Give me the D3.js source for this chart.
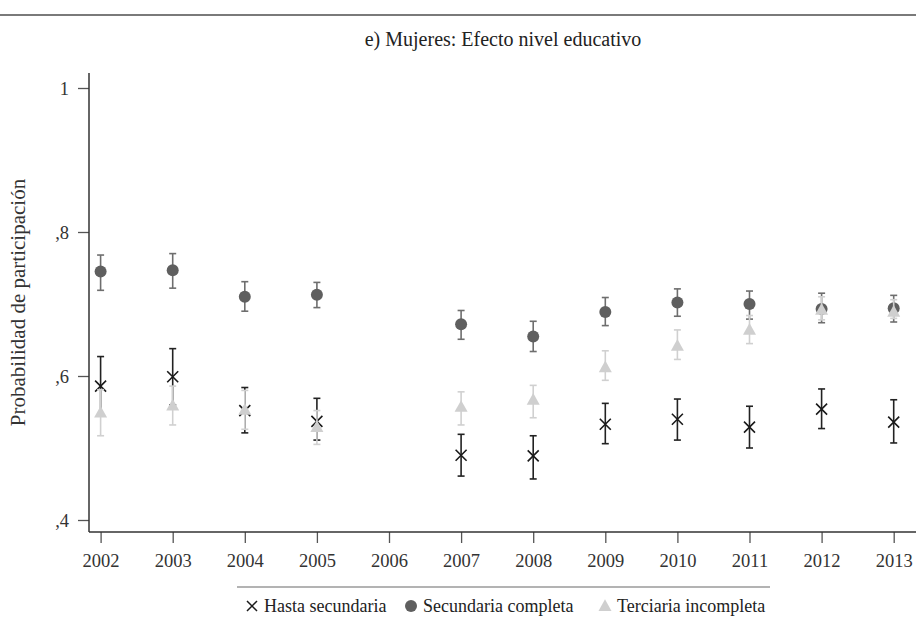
<!DOCTYPE html>
<html>
<head>
<meta charset="utf-8">
<script src="https://cdn.jsdelivr.net/npm/d3@7"></script>
<style>
  html, body { margin: 0; padding: 0; background: #fff; }
  svg { display: block; font-family: "Liberation Serif", "Times New Roman", serif; }
</style>
</head>
<body>
<svg id="chart" width="916" height="632"></svg>
<script>
// Years shown on the axis (2006 has no estimates)
const years = ["2002","2003","2004","2005","2006","2007","2008","2009","2010","2011","2012","2013"];
const yTicks = [0.4, 0.6, 0.8, 1.0];
const yTickLabels = [",4", ",6", ",8", "1"];

// Predicted probability and 95% interval by education level
const hastaYears = ["2002","2003","2004","2005","2007","2008","2009","2010","2011","2012","2013"];
const hastaVal   = [0.586, 0.599, 0.552, 0.537, 0.490, 0.489, 0.533, 0.540, 0.529, 0.554, 0.536];
const hastaLo    = [0.545, 0.560, 0.521, 0.511, 0.461, 0.457, 0.506, 0.511, 0.500, 0.527, 0.507];
const hastaHi    = [0.627, 0.638, 0.584, 0.569, 0.519, 0.517, 0.562, 0.568, 0.558, 0.582, 0.567];

const secYears = ["2002","2003","2004","2005","2007","2008","2009","2010","2011","2012","2013"];
const secVal   = [0.745, 0.747, 0.710, 0.713, 0.672, 0.655, 0.689, 0.702, 0.700, 0.693, 0.694];
const secLo    = [0.719, 0.722, 0.690, 0.695, 0.651, 0.634, 0.670, 0.683, 0.679, 0.674, 0.675];
const secHi    = [0.768, 0.770, 0.731, 0.730, 0.691, 0.676, 0.709, 0.721, 0.718, 0.715, 0.712];

const terYears = ["2002","2003","2004","2005","2007","2008","2009","2010","2011","2012","2013"];
const terVal   = [0.549, 0.559, 0.553, 0.529, 0.557, 0.567, 0.612, 0.642, 0.664, 0.692, 0.689];
const terLo    = [0.517, 0.532, 0.526, 0.505, 0.532, 0.542, 0.594, 0.623, 0.645, 0.678, 0.680];
const terHi    = [0.581, 0.586, 0.580, 0.552, 0.578, 0.587, 0.635, 0.664, 0.684, 0.710, 0.706];

const legendLabels = ["Hasta secundaria", "Secundaria completa", "Terciaria incompleta"];

const svg = d3.select("#chart");

// plot frame
const plotLeft = 89, plotRight = 916, plotTop = 73, plotBottom = 532;

const x = d3.scalePoint().domain(years).range([100.6, 893.7]);
const y = d3.scaleLinear().domain([0.4, 1.0]).range([520, 88]);

// header rule and title
svg.append("line").attr("x1", 0).attr("x2", 916).attr("y1", 15).attr("y2", 15)
  .attr("stroke", "#7a7a7a").attr("stroke-width", 2);
svg.append("text").attr("x", 503).attr("y", 46).attr("text-anchor", "middle")
  .attr("font-size", 20).attr("fill", "#222").text("e) Mujeres: Efecto nivel educativo");

// y axis
const yAxis = svg.append("g").attr("transform", `translate(${plotLeft},0)`)
  .call(d3.axisLeft(y).tickValues(yTicks).tickSize(11).tickSizeOuter(0)
    .tickFormat((d, i) => yTickLabels[i]));
yAxis.select(".domain").remove();
yAxis.selectAll(".tick line").attr("stroke", "#555").attr("stroke-width", 1.3);
yAxis.selectAll(".tick text").attr("x", -20).attr("dy", "0.35em")
  .attr("font-size", 18.5).attr("fill", "#333").attr("font-family", "Liberation Serif");
svg.append("line").attr("x1", plotLeft).attr("x2", plotLeft).attr("y1", plotTop).attr("y2", plotBottom)
  .attr("stroke", "#333").attr("stroke-width", 1.5);

// x axis
const xAxis = svg.append("g").attr("transform", `translate(0,${plotBottom})`)
  .call(d3.axisBottom(x).tickSize(11).tickSizeOuter(0));
xAxis.select(".domain").remove();
xAxis.selectAll(".tick line").attr("stroke", "#555").attr("stroke-width", 1.3);
xAxis.selectAll(".tick text").attr("y", 22).attr("dy", "0.71em")
  .attr("font-size", 18.5).attr("fill", "#333").attr("font-family", "Liberation Serif");
svg.append("line").attr("x1", plotLeft).attr("x2", plotRight).attr("y1", plotBottom).attr("y2", plotBottom)
  .attr("stroke", "#333").attr("stroke-width", 1.5);

// y title
svg.append("text")
  .attr("transform", `translate(25,${(plotTop + plotBottom) / 2}) rotate(-90)`)
  .attr("text-anchor", "middle").attr("font-size", 21).attr("fill", "#333")
  .text("Probabilidad de participación");

// interval bars with caps
function drawIntervals(ys, lo, hi, color, width) {
  const g = svg.append("g").attr("stroke", color).attr("stroke-width", width).attr("fill", "none");
  ys.forEach((yr, i) => {
    const cx = x(yr);
    g.append("line").attr("x1", cx).attr("x2", cx).attr("y1", y(lo[i])).attr("y2", y(hi[i]));
    g.append("line").attr("x1", cx - 3.5).attr("x2", cx + 3.5).attr("y1", y(lo[i])).attr("y2", y(lo[i]));
    g.append("line").attr("x1", cx - 3.5).attr("x2", cx + 3.5).attr("y1", y(hi[i])).attr("y2", y(hi[i]));
  });
}

function crossPath(cx, cy, s) {
  return `M${cx - s},${cy - s}L${cx + s},${cy + s}M${cx - s},${cy + s}L${cx + s},${cy - s}`;
}
function triPath(cx, cy, s) {
  return `M${cx},${cy - s * 1.05}L${cx + s},${cy + s * 0.75}L${cx - s},${cy + s * 0.75}Z`;
}

// Hasta secundaria
drawIntervals(hastaYears, hastaLo, hastaHi, "#222", 1.6);
svg.append("g").selectAll("path").data(hastaYears).join("path")
  .attr("d", (d, i) => crossPath(x(d), y(hastaVal[i]), 5.5))
  .attr("stroke", "#1a1a1a").attr("stroke-width", 1.6).attr("fill", "none");

// Secundaria completa
drawIntervals(secYears, secLo, secHi, "#6e6e6e", 1.6);
svg.append("g").selectAll("circle").data(secYears).join("circle")
  .attr("cx", d => x(d)).attr("cy", (d, i) => y(secVal[i])).attr("r", 6)
  .attr("fill", "#5f5f5f");

// Terciaria incompleta
drawIntervals(terYears, terLo, terHi, "#d0d0d0", 1.6);
svg.append("g").selectAll("path").data(terYears).join("path")
  .attr("d", (d, i) => triPath(x(d), y(terVal[i]), 6.5))
  .attr("fill", "#cfcfcf");

// legend
svg.append("line").attr("x1", 237).attr("x2", 770).attr("y1", 587).attr("y2", 587)
  .attr("stroke", "#9a9a9a").attr("stroke-width", 1.5);
const legY = 606;
const legX = [252, 411, 605];
svg.append("path").attr("d", crossPath(legX[0], legY, 5)).attr("stroke", "#1a1a1a")
  .attr("stroke-width", 1.5).attr("fill", "none");
svg.append("circle").attr("cx", legX[1]).attr("cy", legY).attr("r", 6).attr("fill", "#5f5f5f");
svg.append("path").attr("d", triPath(legX[2], legY, 6.5)).attr("fill", "#cfcfcf");
legendLabels.forEach((t, i) => {
  svg.append("text").attr("x", legX[i] + 12).attr("y", legY).attr("dy", "0.35em")
    .attr("font-size", 18).attr("fill", "#222").text(t);
});
</script>
</body>
</html>
